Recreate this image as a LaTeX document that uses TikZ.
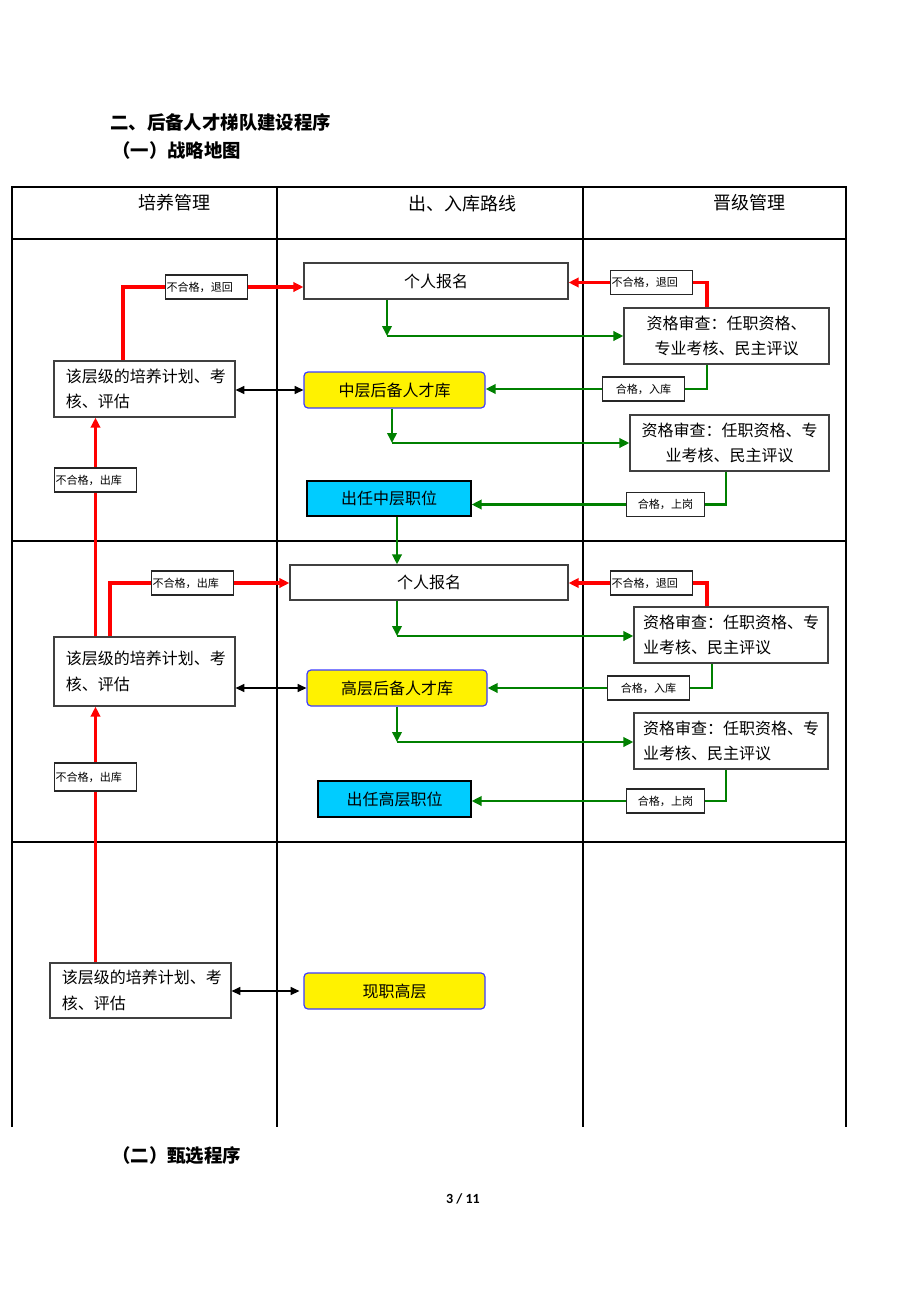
\documentclass[tikz,border=0pt]{standalone}
\usepackage{fontspec}
\setmainfont{Noto Sans CJK SC}
\newfontfamily\pagefont{Carlito}
\usetikzlibrary{arrows.meta}
\definecolor{gogreen}{RGB}{0,128,0}
\definecolor{postblue}{RGB}{0,204,255}
\definecolor{poolblue}{RGB}{60,60,255}

\begin{document}
\begin{tikzpicture}[x=0.75pt, y=-0.75pt,
    box/.style={draw=black!75, line width=0.9pt, fill=white, inner sep=0pt, font=\fontsize{12}{19}\selectfont},
    pool/.style={box, draw=poolblue, fill=yellow, rounded corners=3pt},
    post/.style={box, draw=black, fill=postblue},
    tag/.style={draw=black!85, line width=0.8pt, fill=white, inner sep=1pt, minimum height=18pt, text width=60pt, font=\fontsize{8.3}{10}\selectfont},
    redline/.style={red, line width=2.4pt},
    redarrow/.style={redline, -{Triangle[length=7.5pt,width=7pt]}},
    goline/.style={gogreen, line width=2.2pt},
    goarrow/.style={goline, -{Triangle[length=7.5pt,width=7pt]}},
    both/.style={black, line width=1pt, {Triangle[length=6.5pt,width=6pt]}-{Triangle[length=6.5pt,width=6pt]}},
    grid/.style={black, line width=0.8pt},
    head/.style={inner sep=0pt, font=\fontsize{13.5}{16}\selectfont}]
    \useasboundingbox (0,0) rectangle (920,1302);

    % Titles
    \node[head, anchor=west, font=\fontsize{13.8}{16}\selectfont\bfseries] (title) at (110,122) {二、后备人才梯队建设程序};
    \node[head, anchor=west, font=\fontsize{13.8}{16}\selectfont\bfseries] (part1) at (112,151) {（一）战略地图};
    \node[head, anchor=west, font=\fontsize{13.8}{16}\selectfont\bfseries] (part2) at (112,1156) {（二）甄选程序};
    \node[inner sep=0pt, font=\pagefont\bfseries\fontsize{10.5}{12}\selectfont] (pageno) at (463,1199) {3 / 11};

    % Table
    \draw[grid] (12,1127) -- (12,187) -- (846,187) -- (846,1127);
    \draw[grid] (277,187) -- (277,1127);
    \draw[grid] (583,187) -- (583,1127);
    \foreach \y in {239,541,842}
        \draw[grid] (12,\y) -- (846,\y);
    \node[head] (colA) at (174.5,203) {培养管理};
    \node[head] (colB) at (462.5,204) {出、入库路线};
    \node[head] (colC) at (749.5,203) {晋级管理};

    % Middle level
    \node[box, minimum width=198pt, minimum height=27pt] (sign1) at (436,281) {个人报名};
    \node[box, minimum width=135.75pt, minimum height=42pt, text width=118pt, align=left] (train1) at (144.5,389) {该层级的培养计划、考\\核、评估};
    \node[pool, minimum width=135.75pt, minimum height=27pt] (mid) at (394.5,390) {中层后备人才库};
    \node[box, minimum width=153.75pt, minimum height=42pt, align=center] (chk1) at (726.5,336) {资格审查：任职资格、\\专业考核、民主评议};
    \node[box, minimum width=149.25pt, minimum height=42pt, align=center] (chk2) at (729.5,443) {资格审查：任职资格、专\\业考核、民主评议};
    \node[post, minimum width=123pt, minimum height=26.25pt] (post1) at (389,498.5) {出任中层职位};
    \node[tag, align=left] (backA) at (206.5,287) {不合格，退回};
    \node[tag, align=left] (backB) at (651.5,282.5) {不合格，退回};
    \node[tag, align=center] (inA) at (643.5,389) {合格，入库};
    \node[tag, align=left] (outA) at (95.5,480) {不合格，出库};
    \node[tag, align=center, text width=57pt] (upA) at (665.5,504.5) {合格，上岗};

    % Senior level
    \node[box, minimum width=208.5pt, minimum height=26.25pt] (sign2) at (429,582.5) {个人报名};
    \node[box, minimum width=135.75pt, minimum height=51.75pt, text width=118pt, align=left] (train2) at (144.5,671.5) {该层级的培养计划、考\\核、评估};
    \node[pool, minimum width=135pt, minimum height=27pt] (high) at (397,688) {高层后备人才库};
    \node[box, minimum width=145.5pt, minimum height=42pt, text width=132pt, align=left] (chk3) at (731,635) {资格审查：任职资格、专\\业考核、民主评议};
    \node[box, minimum width=145.5pt, minimum height=42pt, text width=132pt, align=left] (chk4) at (731,741) {资格审查：任职资格、专\\业考核、民主评议};
    \node[post, minimum width=114.75pt, minimum height=27pt] (post2) at (394.5,799) {出任高层职位};
    \node[tag, align=left] (outB) at (192.5,583) {不合格，出库};
    \node[tag, align=left] (backC) at (651.5,583) {不合格，退回};
    \node[tag, align=center] (inB) at (648.5,688) {合格，入库};
    \node[tag, align=left, minimum height=21pt] (outC) at (95.5,777) {不合格，出库};
    \node[tag, align=center, text width=57pt] (upB) at (665.5,801) {合格，上岗};

    % Current senior
    \node[box, minimum width=135.75pt, minimum height=41.25pt, text width=118pt, align=left] (train3) at (140.5,990.5) {该层级的培养计划、考\\核、评估};
    \node[pool, minimum width=135.75pt, minimum height=27pt] (now) at (394.5,991) {现职高层};

    % Bends
    \coordinate (cA) at (123,287);
    \coordinate (cB) at (707,283);
    \coordinate (cC) at (387,336);
    \coordinate (cD) at (707,389);
    \coordinate (cE) at (392,443);
    \coordinate (cF) at (726,504.5);
    \coordinate (cG) at (397,530);
    \coordinate (cI) at (110,583);
    \coordinate (cJ) at (707,583);
    \coordinate (cK) at (397,636);
    \coordinate (cL) at (712,688);
    \coordinate (cM) at (397,742);
    \coordinate (cN) at (726,801);

    % Middle level links
    \draw[redline] (train1.north -| cA) |- (backA.west);
    \draw[redarrow] (backA.east) -- (backA.east -| sign1.west);
    \draw[redline] (chk1.north -| cB) |- (backB.east);
    \draw[redarrow] (backB.west) -- (backB.west -| sign1.east);
    \draw[goarrow] (sign1.south -| cC) -- (cC);
    \draw[goarrow] (cC) -- (chk1.west);
    \draw[goline] (chk1.south -| cD) |- (inA.east);
    \draw[goarrow] (inA.west) -- (inA.west -| mid.east);
    \draw[goarrow] (mid.south -| cE) -- (cE);
    \draw[goarrow] (cE) -- (cE -| chk2.west);
    \draw[goline] (chk2.south -| cF) |- (upA.east);
    \draw[goarrow] (upA.west) -- (upA.west -| post1.east);
    \draw[goarrow] (post1.south -| cG) -- (sign2.north -| cG);
    \draw[both] (train1.east |- mid.west) -- (mid.west);
    \draw[redline] (train2.north -| outA.south) -- (outA.south);
    \draw[redarrow] (outA.north) -- (train1.south -| outA.north);

    % Senior level links
    \draw[redline] (train2.north -| cI) |- (outB.west);
    \draw[redarrow] (outB.east) -- (outB.east -| sign2.west);
    \draw[redline] (chk3.north -| cJ) |- (backC.east);
    \draw[redarrow] (backC.west) -- (backC.west -| sign2.east);
    \draw[goarrow] (sign2.south -| cK) -- (cK);
    \draw[goarrow] (cK) -- (cK -| chk3.west);
    \draw[goline] (chk3.south -| cL) |- (inB.east);
    \draw[goarrow] (inB.west) -- (inB.west -| high.east);
    \draw[goarrow] (high.south -| cM) -- (cM);
    \draw[goarrow] (cM) -- (cM -| chk4.west);
    \draw[goline] (chk4.south -| cN) |- (upB.east);
    \draw[goarrow] (upB.west) -- (upB.west -| post2.east);
    \draw[both] (train2.east |- high.west) -- (high.west);
    \draw[redline] (train3.north -| outC.south) -- (outC.south);
    \draw[redarrow] (outC.north) -- (train2.south -| outC.north);

    % Current senior link
    \draw[both] (train3.east |- now.west) -- ([xshift=-3pt]now.west);
\end{tikzpicture}
\end{document}
